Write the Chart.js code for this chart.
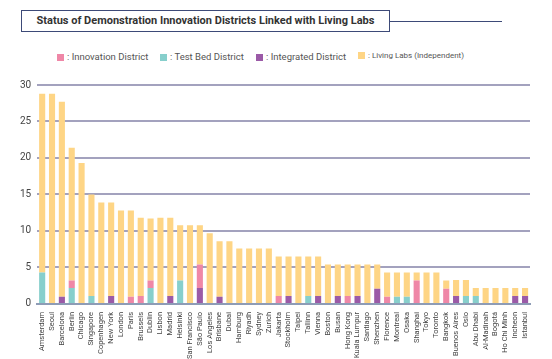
<!DOCTYPE html>
<html>
<head>
<meta charset="utf-8">
<script src="https://cdn.jsdelivr.net/npm/chart.js@4/dist/chart.umd.min.js"></script>
<style>
    body { margin: 0; width: 552px; height: 359px; background: #fff; font-family: Roboto, "Noto Sans", sans-serif; position: relative; overflow: hidden; }
    .title-box { position: absolute; left: 21px; top: 10px; width: 367px; height: 20px; border: 1px solid #3d4a78; box-sizing: content-box;
        font-weight: bold; font-size: 11px; color: #333; text-align: center; line-height: 20px; background: #fff; z-index: 2; }
    .title-line { position: absolute; left: 389px; top: 21px; width: 113px; height: 1px; background: #3d4a78; }
    .legend { position: absolute; top: 51px; left: 57px; font-size: 9.5px; color: #555; white-space: nowrap; }
    .legend span.item { position: absolute; top: 0; }
    .legend i { display: inline-block; width: 7px; height: 7px; margin-right: 3px; vertical-align: -0.5px; }
    #wrap { position: absolute; left: 0; top: 73px; width: 552px; height: 286px; }
</style>
</head>
<body>
<div class="title-box">Status of Demonstration Innovation Districts Linked with Living Labs</div>
<div class="title-line"></div>
<div class="legend" id="legend"></div>
<div id="wrap"><canvas id="chart"></canvas></div>
<script>
const cities = ['Amsterdam', 'Seoul', 'Barcelona', 'Berlin', 'Chicago', 'Singapore', 'Copenhagen', 'New York', 'London', 'Paris',
    'Brussels', 'Dublin', 'Lisbon', 'Madrid', 'Helsinki', 'San Francisco', 'São Paulo', 'Los Angeles', 'Brisbane', 'Dubai',
    'Hamburg', 'Riyadh', 'Sydney', 'Zurich', 'Jakarta', 'Stockholm', 'Taipei', 'Tallinn', 'Vienna', 'Boston',
    'Busan', 'Hong Kong', 'Kuala Lumpur', 'Santiago', 'Shenzhen', 'Florence', 'Montreal', 'Osaka', 'Shanghai', 'Tokyo',
    'Toronto', 'Bangkok', 'Buenos Aires', 'Oslo', 'Abu Dhabi', 'Al-Madinah', 'Bogotá', 'Ho Chi Minh', 'Incheon', 'Istanbul'];

const testBed = [4.3, 0, 0, 2.2, 0, 1.1, 0, 0, 0, 0,
    0, 2.2, 0, 0, 3.2, 0, 0, 0, 0, 0,
    0, 0, 0, 0, 0, 0, 0, 1.1, 0, 0,
    0, 0, 0, 0, 0, 0, 1.0, 1.0, 0, 0,
    0, 0, 0, 1.1, 1.1, 0, 0, 0, 0, 0];
const integrated = [0, 0, 1.0, 0, 0, 0, 0, 1.1, 0, 0,
    0, 0, 0, 1.1, 0, 0, 2.2, 0, 1.0, 0,
    0, 0, 0, 0, 0, 1.1, 0, 0, 1.1, 0,
    1.1, 0, 1.1, 0, 2.1, 0, 0, 0, 0, 0,
    0, 0, 1.1, 0, 0, 0, 0, 0, 1.1, 1.1];
const innovation = [0, 0, 0, 1.0, 0, 0, 0, 0, 0, 1.0,
    1.1, 1.0, 0, 0, 0, 0, 3.2, 0, 0, 0,
    0, 0, 0, 0, 1.1, 0, 0, 0, 0, 0,
    0, 1.1, 0, 0, 0, 1.0, 0, 0, 3.2, 0,
    0, 2.1, 0, 0, 0, 0, 0, 0, 0, 0];
const livingLabs = [24.5, 28.8, 26.7, 18.2, 19.3, 13.9, 13.9, 12.8, 12.8, 11.8,
    10.7, 8.5, 11.8, 10.7, 7.6, 10.8, 5.4, 9.7, 7.6, 8.6,
    7.6, 7.6, 7.6, 7.6, 5.4, 5.4, 6.5, 5.4, 5.4, 5.4,
    4.3, 4.3, 4.3, 5.4, 3.3, 3.3, 3.3, 3.3, 1.1, 4.3,
    4.3, 1.1, 2.2, 2.2, 1.1, 2.2, 2.2, 2.2, 1.1, 1.1];
const yTicks = [0, 5, 10, 15, 20, 25, 30];

const colors = { innovation: '#ef87a7', testBed: '#87cfcc', integrated: '#9b5aa7', living: '#fed585' };

// legend (HTML, same order as the reference)
const legendItems = [
    { text: ': Innovation District', color: colors.innovation, x: 0, size: 9.5 },
    { text: ': Test Bed District', color: colors.testBed, x: 103, size: 9.5 },
    { text: ': Integrated District', color: colors.integrated, x: 199, size: 9.5 },
    { text: ': Living Labs (Independent)', color: colors.living, x: 301, size: 8 }
];
document.getElementById('legend').innerHTML = legendItems.map(it =>
    `<span class="item" style="left:${it.x}px;font-size:${it.size}px"><i style="background:${it.color}"></i>${it.text}</span>`).join('');

const mkSet = (label, data, color) => ({
    label, data, backgroundColor: color, borderWidth: 0,
    barPercentage: 0.62, categoryPercentage: 1.0
});

new Chart(document.getElementById('chart'), {
    type: 'bar',
    data: {
        labels: cities,
        datasets: [
            mkSet('Test Bed District', testBed, colors.testBed),
            mkSet('Integrated District', integrated, colors.integrated),
            mkSet('Innovation District', innovation, colors.innovation),
            mkSet('Living Labs (Independent)', livingLabs, colors.living)
        ]
    },
    options: {
        responsive: true,
        maintainAspectRatio: false,
        animation: false,
        layout: { padding: { left: 14, right: 22, top: 5, bottom: 0 } },
        plugins: { legend: { display: false }, tooltip: { enabled: false } },
        scales: {
            x: {
                stacked: true,
                grid: { display: false },
                border: { color: '#8e9cb6', width: 2 },
                ticks: { color: '#444', font: { size: 7.5, family: 'Roboto' }, minRotation: 90, maxRotation: 90, autoSkip: false, padding: 0 }
            },
            y: {
                stacked: true,
                min: 0, max: 30,
                afterBuildTicks: (axis) => { axis.ticks = yTicks.map(v => ({ value: v })); },
                grid: { color: '#a3a2be', lineWidth: 2, drawTicks: false },
                border: { display: false },
                ticks: { color: '#444', font: { size: 10, family: 'Roboto' }, padding: 6 }
            }
        }
    }
});
</script>
</body>
</html>
